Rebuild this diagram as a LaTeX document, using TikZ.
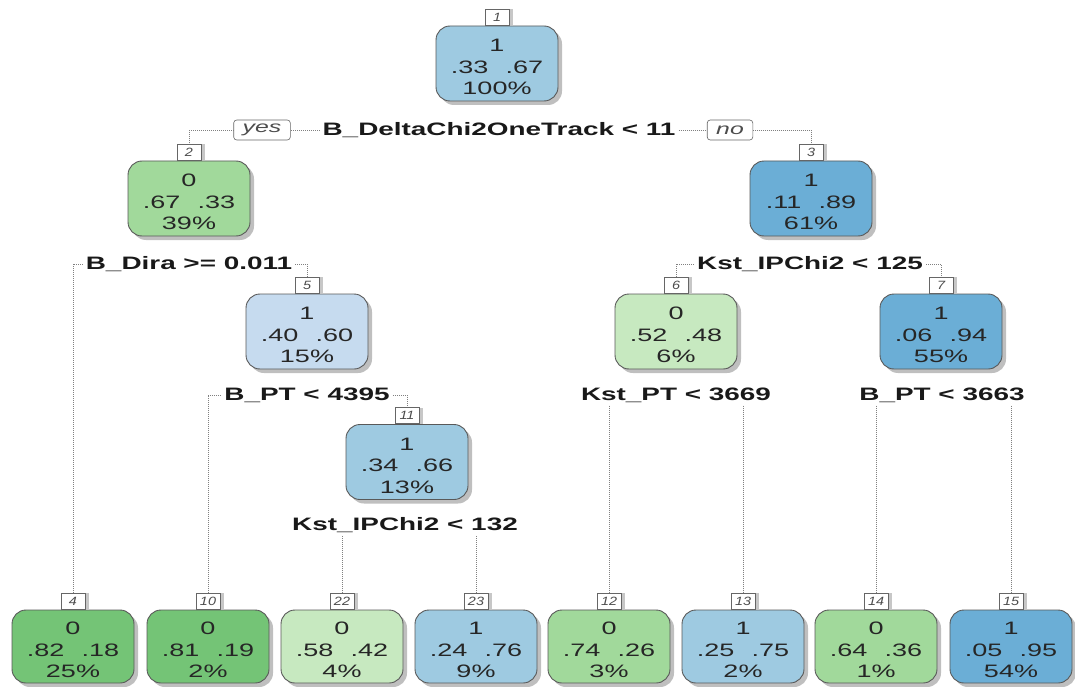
\documentclass[tikz,border=0pt]{standalone}
\usepackage{fontspec}
\setmainfont{Liberation Sans}
\newfontfamily\nodefont[FakeStretch=1.5]{Liberation Sans}
\newfontfamily\labfont[FakeStretch=1.55]{Liberation Sans}
\newfontfamily\tagfont[FakeStretch=1.2]{Liberation Sans}
\usetikzlibrary{shadows}
\pgfdeclarelayer{bg}
\pgfsetlayers{bg,main}
\definecolor{gA}{RGB}{116,196,118}
\definecolor{gB}{RGB}{161,217,155}
\definecolor{gC}{RGB}{199,233,192}
\definecolor{bA}{RGB}{198,219,239}
\definecolor{bB}{RGB}{158,202,225}
\definecolor{bC}{RGB}{107,174,214}
\newcommand\rpnode[4]{\rule{0pt}{20pt}#1\\#2\hspace{0.95em}#3\\#4\%}
\tikzset{
 tree/.style={rounded corners=14pt, draw=black!65, line width=0.9pt, minimum width=122pt, minimum height=75pt, align=center, font=\nodefont\fontsize{18}{21.5}\selectfont, text=black!85, drop shadow={shadow xshift=4pt, shadow yshift=-4pt, fill=black, opacity=0.25}},
 leaf/.style={tree, minimum height=73pt},
 tagbox/.style={draw=black!60, fill=white, line width=0.6pt, font=\tagfont\itshape\fontsize{12}{12}\selectfont, text=black!70, minimum width=24pt, minimum height=16pt, inner xsep=4pt, inner ysep=0pt, anchor=south, drop shadow={shadow xshift=4pt, shadow yshift=0pt, fill=black, opacity=0.22}},
 split/.style={font=\labfont\bfseries\fontsize{18}{20}\selectfont, text=black!90, inner sep=3pt},
 yn/.style={draw=black!60, fill=white, rounded corners=3pt, font=\labfont\itshape\fontsize{16}{16}\selectfont, text=black!70, minimum height=20pt, inner xsep=9pt, inner ysep=0pt, line width=0.6pt},
 conn/.style={draw=black!50, dash pattern=on 0.8pt off 1.2pt, line width=0.7pt}
}
\begin{document}
\begin{tikzpicture}[x=1pt,y=-1pt]
\useasboundingbox (0,0) rectangle (1075,687);
% inner nodes
\node[tree, fill=bB] (n1) at (497,63.5) {\rpnode{1}{.33}{.67}{100}};
\node[tree, fill=gB] (n2) at (189,198.5) {\rpnode{0}{.67}{.33}{39}};
\node[tree, fill=bC] (n3) at (811,198.5) {\rpnode{1}{.11}{.89}{61}};
\node[tree, fill=bA] (n5) at (307,331.5) {\rpnode{1}{.40}{.60}{15}};
\node[tree, fill=gC] (n6) at (676,331.5) {\rpnode{0}{.52}{.48}{6}};
\node[tree, fill=bC] (n7) at (941,331.5) {\rpnode{1}{.06}{.94}{55}};
\node[tree, fill=bB] (n11) at (407,462) {\rpnode{1}{.34}{.66}{13}};
% leaves
\node[leaf, fill=gA] (n4) at (73,646.5) {\rpnode{0}{.82}{.18}{25}};
\node[leaf, fill=gA] (n10) at (208,646.5) {\rpnode{0}{.81}{.19}{2}};
\node[leaf, fill=gC] (n22) at (342,646.5) {\rpnode{0}{.58}{.42}{4}};
\node[leaf, fill=bB] (n23) at (476,646.5) {\rpnode{1}{.24}{.76}{9}};
\node[leaf, fill=gB] (n12) at (609,646.5) {\rpnode{0}{.74}{.26}{3}};
\node[leaf, fill=bB] (n13) at (743,646.5) {\rpnode{1}{.25}{.75}{2}};
\node[leaf, fill=gB] (n14) at (876,646.5) {\rpnode{0}{.64}{.36}{1}};
\node[leaf, fill=bC] (n15) at (1011,646.5) {\rpnode{1}{.05}{.95}{54}};
% tags
\foreach \k in {1,2,3,4,5,6,7,10,11,12,13,14,15,22,23}{
  \node[tagbox] (t\k) at (n\k.north) {\k};
}
% split labels
\node[split] (s1) at (499,130) {B\_DeltaChi2OneTrack < 11};
\node[split] (s2) at (189,264) {B\_Dira >= 0.011};
\node[split] (s3) at (810,264) {Kst\_IPChi2 < 125};
\node[split] (s5) at (307,395) {B\_PT < 4395};
\node[split] (s6) at (676,395) {Kst\_PT < 3669};
\node[split] (s7) at (942,395) {B\_PT < 3663};
\node[split] (s11) at (405,525) {Kst\_IPChi2 < 132};
% connectors
\begin{pgfonlayer}{bg}
\draw[conn] (s1.west) -| (t2.north);
\draw[conn] (s1.east) -| (t3.north);
\draw[conn] (s2.west) -| (t4.north);
\draw[conn] (s2.east) -| (t5.north);
\draw[conn] (s3.west) -| (t6.north);
\draw[conn] (s3.east) -| (t7.north);
\draw[conn] (s5.west) -| (t10.north);
\draw[conn] (s5.east) -| (t11.north);
\draw[conn] (s6.south -| t12.north) -- (t12.north);
\draw[conn] (s6.south -| t13.north) -- (t13.north);
\draw[conn] (s7.south -| t14.north) -- (t14.north);
\draw[conn] (s7.south -| t15.north) -- (t15.north);
\draw[conn] (s11.south -| t22.north) -- (t22.north);
\draw[conn] (s11.south -| t23.north) -- (t23.north);
\end{pgfonlayer}
\node[yn] (yes) at (262,130) {yes};
\node[yn] (no) at (730,130) {no};
\end{tikzpicture}
\end{document}
